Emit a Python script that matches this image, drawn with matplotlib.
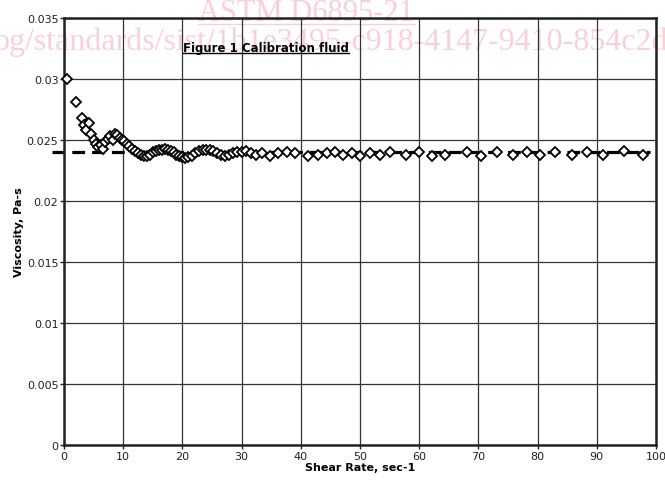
#Wykres lepkosci - ciecz kalibracyjna
import matplotlib
matplotlib.use('Agg')
import matplotlib.pyplot as plt
from matplotlib.lines import Line2D

# dane
shear_rate = [0.5, 2.0, 3.0, 3.4, 3.8, 4.2, 4.6, 5.0, 5.4, 5.8, 6.2, 6.6, 7.0, 7.4,
              7.8, 8.2, 8.6, 9.0, 9.4, 9.8, 10.2, 10.6, 11.0, 11.5, 12.0, 12.5,
              13.0, 13.5, 14.0, 14.5, 15.0, 15.5, 16.0, 16.5, 17.0, 17.5, 18.0,
              18.5, 19.0, 19.5, 20.0, 20.5, 21.0, 21.6, 22.2, 22.8, 23.4, 24.0,
              24.6, 25.2, 25.8, 26.5, 27.2, 27.9, 28.6, 29.3, 30.0, 30.8, 31.6,
              32.4, 33.4, 34.8, 36.1, 37.7, 39.0, 41.2, 42.9, 44.4, 45.8, 47.1,
              48.6, 50.0, 51.7, 53.4, 55.1, 57.8, 60.0, 62.2, 64.4, 68.1, 70.4,
              73.1, 75.8, 78.2, 80.4, 83.0, 85.8, 88.4, 91.0, 94.6, 97.8]
viscosity = [0.0300, 0.0281, 0.0268, 0.0262, 0.0258, 0.0264, 0.0255, 0.0250,
             0.0247, 0.0244, 0.0246, 0.0243, 0.0248, 0.0251, 0.0253, 0.0250,
             0.0255, 0.0254, 0.0252, 0.0250, 0.0249, 0.0247, 0.0245, 0.0243,
             0.0241, 0.0239, 0.0238, 0.0237, 0.0237, 0.0238, 0.0240, 0.0241,
             0.0242, 0.0242, 0.0243, 0.0242, 0.0241, 0.0240, 0.0238, 0.0237,
             0.0236, 0.0235, 0.0236, 0.0237, 0.0239, 0.0241, 0.0242, 0.0242,
             0.0242, 0.0241, 0.0239, 0.0238, 0.0237, 0.0238, 0.0239, 0.0240,
             0.0240, 0.0241, 0.0239, 0.0238, 0.0239, 0.0237, 0.0239, 0.0240,
             0.0239, 0.0237, 0.0238, 0.0239, 0.0240, 0.0238, 0.0239, 0.0237,
             0.0239, 0.0238, 0.0240, 0.0238, 0.0240, 0.0237, 0.0238, 0.0240,
             0.0237, 0.0240, 0.0238, 0.0240, 0.0238, 0.0240, 0.0238, 0.0240,
             0.0238, 0.0241, 0.0238]
ref_x = [-2, 99]
ref_y = [0.024, 0.024]

xticks = [0, 10, 20, 30, 40, 50, 60, 70, 80, 90, 100]
yticks = [0, 0.005, 0.01, 0.015, 0.02, 0.025, 0.03, 0.035]
ytick_labels = ['0', '0.005', '0.01', '0.015', '0.02', '0.025', '0.03', '0.035']

fig = plt.figure(figsize=(6.65, 4.85), dpi=100)
ax = fig.add_axes([64/665, 1-446/485, (656-64)/665, (446-19)/485])
ax.patch.set_alpha(0)

# znak wodny
pink = '#f9d0d8'
fig.text(0.46, 0.973, 'ASTM D6895-21', ha='center', va='center', fontsize=22,
         family='Liberation Serif', color=pink, zorder=-5)
fig.add_artist(Line2D([198/665, 415/665], [1-25/485, 1-25/485], color=pink, lw=1, zorder=-5))
fig.text(0.497, 0.912, 'og/standards/sist/1b1e3495-c918-4147-9410-854c2d', ha='center',
         va='center', fontsize=23, family='Liberation Serif', color=pink, zorder=-5)

ax.plot(ref_x, ref_y, color='black', lw=2.3, dashes=(4, 2.2), clip_on=False, zorder=2)
ax.plot(shear_rate, viscosity, 'D', mfc='white', mec='black', mew=1.3, ms=5.5,
        zorder=3, clip_on=False)

ax.set_xlim(0, 100)
ax.set_ylim(0, 0.035)
ax.set_xticks(xticks)
ax.set_yticks(yticks)
ax.set_yticklabels(ytick_labels)
ax.grid(True, color='#333333', lw=0.9)
ax.set_axisbelow(True)
for s in ax.spines.values():
    s.set_linewidth(1.8)
    s.set_color('#222222')
ax.tick_params(length=3, width=1, labelsize=8, pad=1, colors='#222222')

ax.set_xlabel('Shear Rate, sec-1', fontsize=8, fontweight='bold', labelpad=1)
ax.set_ylabel('Viscosity, Pa-s', fontsize=8, fontweight='bold', labelpad=2)

t = ax.text(20.1, 0.0326, 'Figure 1 Calibration fluid', fontsize=8.5,
            fontweight='bold', va='center', ha='left')
fig.canvas.draw()
bb = t.get_window_extent().transformed(fig.transFigure.inverted())
fig.add_artist(Line2D([bb.x0, bb.x1], [bb.y0 + 0.002, bb.y0 + 0.002], color='black', lw=1))

fig.savefig('out.png', dpi=100)
